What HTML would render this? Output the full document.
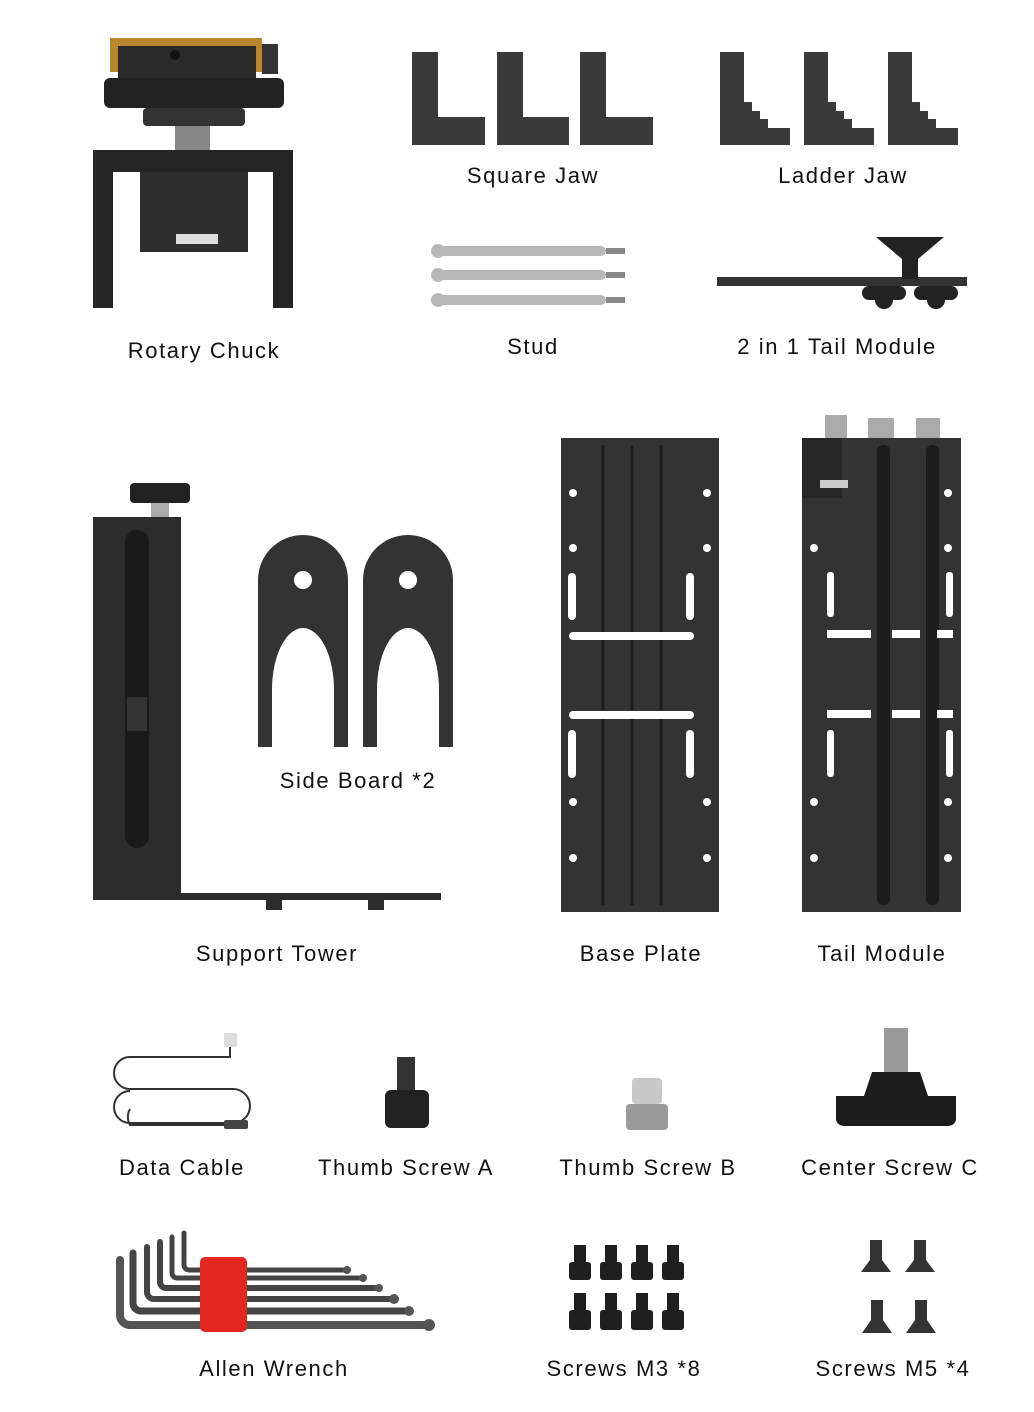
<!DOCTYPE html>
<html><head><meta charset="utf-8"><style>
html,body{margin:0;padding:0;background:#fff}
svg{display:block}
text{font-family:"Liberation Sans",sans-serif;font-size:22px;letter-spacing:1.6px;fill:#111;text-anchor:middle}
</style></head><body>
<svg width="1034" height="1412" viewBox="0 0 1034 1412" xmlns="http://www.w3.org/2000/svg">
<!-- Rotary chuck -->
<rect x="110" y="38" width="152" height="10" fill="#b8862e"/>
<rect x="110" y="38" width="12" height="34" fill="#b8862e"/>
<rect x="250" y="38" width="12" height="34" fill="#b8862e"/>
<rect x="118" y="46" width="138" height="32" fill="#2a2a2a"/>
<rect x="262" y="44" width="16" height="30" fill="#333"/>
<circle cx="175" cy="55" r="5" fill="#111"/>
<rect x="104" y="78" width="180" height="30" rx="6" fill="#222"/>
<rect x="143" y="108" width="102" height="18" rx="4" fill="#333"/>
<rect x="175" y="126" width="35" height="26" fill="#888"/>
<rect x="93" y="150" width="200" height="22" fill="#252525"/>
<rect x="93" y="172" width="20" height="136" fill="#252525"/>
<rect x="273" y="172" width="20" height="136" fill="#252525"/>
<rect x="140" y="172" width="108" height="80" fill="#2e2e2e"/>
<rect x="176" y="234" width="42" height="10" fill="#ddd"/>
<!-- Square jaws -->
<g fill="#3a3a3a">
<path d="M412 52h26v65h47v28h-73z"/>
<path d="M497 52h26v65h46v28h-72z"/>
<path d="M580 52h26v65h47v28h-73z"/>
<path d="M720 52h24v50h8v9h8v8h8v9h22v17h-70z"/>
<path d="M804 52h24v50h8v9h8v8h8v9h22v17h-70z"/>
<path d="M888 52h24v50h8v9h8v8h8v9h22v17h-70z"/>
</g>
<!-- Stud -->
<g fill="#b8b8b8">
<rect x="434" y="246" width="172" height="10" rx="5"/><rect x="606" y="248" width="19" height="6" fill="#888"/><circle cx="438" cy="251" r="7"/>
<rect x="434" y="270" width="172" height="10" rx="5"/><rect x="606" y="272" width="19" height="6" fill="#888"/><circle cx="438" cy="275" r="7"/>
<rect x="434" y="295" width="172" height="10" rx="5"/><rect x="606" y="297" width="19" height="6" fill="#888"/><circle cx="438" cy="300" r="7"/>
</g>
<!-- 2in1 tail -->
<rect x="717" y="277" width="250" height="9" fill="#333"/>
<path d="M876 237h68l-26 22v20h-16v-20z" fill="#222"/>
<rect x="862" y="286" width="44" height="14" rx="7" fill="#222"/>
<rect x="914" y="286" width="44" height="14" rx="7" fill="#222"/>
<circle cx="884" cy="300" r="9" fill="#222"/><circle cx="936" cy="300" r="9" fill="#222"/>
<!-- Support tower -->
<rect x="130" y="483" width="60" height="20" rx="4" fill="#222"/>
<rect x="151" y="503" width="18" height="14" fill="#aaa"/>
<rect x="93" y="517" width="88" height="383" fill="#2c2c2c"/>
<rect x="125" y="530" width="24" height="318" rx="12" fill="#1a1a1a"/>
<rect x="127" y="697" width="20" height="34" fill="#333"/>
<rect x="181" y="893" width="260" height="7" fill="#2c2c2c"/>
<rect x="266" y="900" width="16" height="10" fill="#2c2c2c"/>
<rect x="368" y="900" width="16" height="10" fill="#2c2c2c"/>
<!-- Side boards -->
<g fill="#333">
<path d="M258 747V580a45 45 0 0 1 90 0V747h-14V690a17 34 0 0 0 -62 0V747z"/>
<path d="M363 747V580a45 45 0 0 1 90 0V747h-14V690a17 34 0 0 0 -62 0V747z"/>
</g>
<circle cx="303" cy="580" r="9" fill="#fff"/><circle cx="408" cy="580" r="9" fill="#fff"/>
<!-- Base plate -->
<rect x="561" y="438" width="158" height="474" fill="#333"/>
<g stroke="#1e1e1e" stroke-width="3"><line x1="603" y1="445" x2="603" y2="905"/><line x1="632" y1="445" x2="632" y2="905"/><line x1="661" y1="445" x2="661" y2="905"/></g>
<g fill="#fff">
<rect x="569" y="632" width="125" height="8" rx="4"/><rect x="569" y="711" width="125" height="8" rx="4"/>
<rect x="568" y="573" width="8" height="47" rx="4"/><rect x="686" y="573" width="8" height="47" rx="4"/>
<rect x="568" y="730" width="8" height="48" rx="4"/><rect x="686" y="730" width="8" height="48" rx="4"/>
<circle cx="573" cy="493" r="4"/><circle cx="707" cy="493" r="4"/><circle cx="573" cy="548" r="4"/><circle cx="707" cy="548" r="4"/>
<circle cx="573" cy="802" r="4"/><circle cx="707" cy="802" r="4"/><circle cx="573" cy="858" r="4"/><circle cx="707" cy="858" r="4"/>
</g>
<!-- Tail module -->
<rect x="802" y="438" width="159" height="474" fill="#333"/>
<rect x="825" y="415" width="22" height="23" fill="#aaa"/><rect x="868" y="418" width="26" height="20" fill="#aaa"/><rect x="916" y="418" width="24" height="20" fill="#aaa"/>
<rect x="802" y="438" width="40" height="60" fill="#262626"/><rect x="820" y="480" width="28" height="8" fill="#ccc"/>
<rect x="877" y="445" width="13" height="460" rx="6" fill="#1c1c1c"/>
<rect x="926" y="445" width="13" height="460" rx="6" fill="#1c1c1c"/>
<g fill="#fff">
<rect x="827" y="630" width="44" height="8"/><rect x="892" y="630" width="28" height="8"/><rect x="937" y="630" width="16" height="8"/>
<rect x="827" y="710" width="44" height="8"/><rect x="892" y="710" width="28" height="8"/><rect x="937" y="710" width="16" height="8"/>
<rect x="827" y="572" width="7" height="45" rx="3"/><rect x="946" y="572" width="7" height="45" rx="3"/>
<rect x="827" y="730" width="7" height="47" rx="3"/><rect x="946" y="730" width="7" height="47" rx="3"/>
<circle cx="814" cy="548" r="4"/><circle cx="948" cy="548" r="4"/><circle cx="814" cy="802" r="4"/><circle cx="948" cy="802" r="4"/><circle cx="814" cy="858" r="4"/><circle cx="948" cy="858" r="4"/><circle cx="948" cy="493" r="4"/>
</g>
<!-- Data cable -->
<path d="M230 1047v10H130a16 16 0 0 0 0 32h103a17 17 0 0 1 0 34H130a16 16 0 0 1 0-32" fill="none" stroke="#333" stroke-width="2"/>
<path d="M130 1109a16 16 0 0 0 0 16h95" fill="none" stroke="#333" stroke-width="2"/>
<rect x="224" y="1033" width="13" height="14" fill="#ddd"/>
<rect x="224" y="1120" width="24" height="9" rx="2" fill="#444"/>
<!-- Thumb screw A -->
<rect x="397" y="1057" width="18" height="35" fill="#333"/>
<rect x="385" y="1090" width="44" height="38" rx="6" fill="#222"/>
<!-- Thumb screw B -->
<rect x="632" y="1078" width="30" height="26" rx="4" fill="#c8c8c8"/>
<rect x="626" y="1104" width="42" height="26" rx="4" fill="#9a9a9a"/>
<!-- Center screw C -->
<rect x="884" y="1028" width="24" height="46" fill="#999"/>
<path d="M872 1072h48l8 24h28v24a8 8 0 0 1-8 6H844a8 8 0 0 1-8-6v-24h28z" fill="#1c1c1c"/>
<!-- Allen wrench -->
<g fill="none" stroke-linecap="round" stroke-linejoin="round">
<path d="M120 1260v55a10 10 0 0 0 10 10H427" stroke="#555" stroke-width="8"/>
<path d="M133 1253v50a8 8 0 0 0 8 8H407" stroke="#444" stroke-width="7"/>
<path d="M147 1247v45a7 7 0 0 0 7 7H392" stroke="#444" stroke-width="6"/>
<path d="M160 1242v40a6 6 0 0 0 6 6H378" stroke="#444" stroke-width="6"/>
<path d="M172 1237v36a5 5 0 0 0 5 5H362" stroke="#444" stroke-width="5"/>
<path d="M184 1233v32a5 5 0 0 0 5 5H346" stroke="#444" stroke-width="5"/>
</g>
<circle cx="429" cy="1325" r="6" fill="#555"/><circle cx="409" cy="1311" r="5" fill="#555"/><circle cx="394" cy="1299" r="5" fill="#555"/><circle cx="379" cy="1288" r="4" fill="#555"/><circle cx="363" cy="1278" r="4" fill="#555"/><circle cx="347" cy="1270" r="4" fill="#555"/>
<rect x="200" y="1257" width="47" height="75" rx="5" fill="#e3261f"/>
<!-- M3 screws -->
<g fill="#1f1f1f">
<rect x="574" y="1245" width="12" height="18"/><rect x="569" y="1262" width="22" height="18" rx="3"/>
<rect x="605" y="1245" width="12" height="18"/><rect x="600" y="1262" width="22" height="18" rx="3"/>
<rect x="636" y="1245" width="12" height="18"/><rect x="631" y="1262" width="22" height="18" rx="3"/>
<rect x="667" y="1245" width="12" height="18"/><rect x="662" y="1262" width="22" height="18" rx="3"/>
<rect x="574" y="1293" width="12" height="18"/><rect x="569" y="1310" width="22" height="20" rx="3"/>
<rect x="605" y="1293" width="12" height="18"/><rect x="600" y="1310" width="22" height="20" rx="3"/>
<rect x="636" y="1293" width="12" height="18"/><rect x="631" y="1310" width="22" height="20" rx="3"/>
<rect x="667" y="1293" width="12" height="18"/><rect x="662" y="1310" width="22" height="20" rx="3"/>
</g>
<!-- M5 screws -->
<g fill="#333">
<path d="M870 1240h12v20l9 12h-30l9-12z"/><path d="M914 1240h12v20l9 12h-30l9-12z"/>
<path d="M871 1300h12v20l9 13h-30l9-13z"/><path d="M915 1300h12v20l9 13h-30l9-13z"/>
</g>
<!-- Labels -->
<text x="204" y="358">Rotary Chuck</text>
<text x="533" y="183">Square Jaw</text>
<text x="843" y="183">Ladder Jaw</text>
<text x="533" y="354">Stud</text>
<text x="837" y="354">2 in 1 Tail Module</text>
<text x="358" y="788">Side Board *2</text>
<text x="277" y="961">Support Tower</text>
<text x="641" y="961">Base Plate</text>
<text x="882" y="961">Tail Module</text>
<text x="182" y="1175">Data Cable</text>
<text x="406" y="1175">Thumb Screw A</text>
<text x="648" y="1175">Thumb Screw B</text>
<text x="890" y="1175">Center Screw C</text>
<text x="274" y="1376">Allen Wrench</text>
<text x="624" y="1376">Screws M3 *8</text>
<text x="893" y="1376">Screws M5 *4</text>
</svg>
</body></html>
